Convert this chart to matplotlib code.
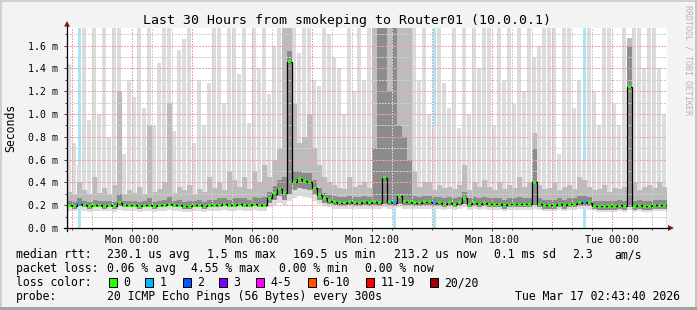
import numpy as np
import matplotlib
matplotlib.use('Agg')
import matplotlib.pyplot as plt
from matplotlib.patches import Rectangle, Polygon
from matplotlib.lines import Line2D

plt.rcParams['font.family'] = ['DejaVu Sans Mono']
plt.rcParams['lines.scale_dashes'] = False

W, H = 697, 310

# 15 minute bins, hours relative to Mon 00:00, first bin starts Sun 20:45
bin_start = -3.25
bin_hours = 0.25

# round trip times in ms (axis is "m" = milliseconds of seconds)
median_ms = [
    0.20, 0.19, 0.21, 0.20, 0.19, 0.20, 0.20, 0.19, 0.20, 0.19, 0.22, 0.20,
    0.20, 0.20, 0.19, 0.20, 0.20, 0.19, 0.20, 0.20, 0.21, 0.20, 0.20, 0.19,
    0.19, 0.20, 0.20, 0.19, 0.20, 0.20, 0.20, 0.21, 0.20, 0.20, 0.21, 0.20,
    0.20, 0.21, 0.20, 0.20, 0.26, 0.30, 0.34, 0.31, 1.46, 0.40, 0.43, 0.41,
    0.40, 0.35, 0.29, 0.26, 0.24, 0.23, 0.22, 0.22, 0.23, 0.22, 0.22, 0.23,
    0.22, 0.23, 0.22, 0.44, 0.23, 0.22, 0.28, 0.23, 0.23, 0.22, 0.22, 0.23,
    0.23, 0.22, 0.22, 0.21, 0.22, 0.21, 0.22, 0.26, 0.21, 0.22, 0.21, 0.22,
    0.21, 0.21, 0.21, 0.20, 0.21, 0.21, 0.21, 0.21, 0.21, 0.40, 0.21, 0.20,
    0.20, 0.20, 0.21, 0.20, 0.21, 0.21, 0.22, 0.23, 0.22, 0.19, 0.19, 0.19,
    0.19, 0.19, 0.20, 0.19, 1.24, 0.19, 0.20, 0.19, 0.19, 0.20, 0.20, 0.20,
]
rtt_min = [
    0.15, 0.15, 0.16, 0.15, 0.14, 0.15, 0.15, 0.15, 0.15, 0.14, 0.16, 0.15,
    0.15, 0.15, 0.14, 0.15, 0.15, 0.14, 0.15, 0.15, 0.16, 0.15, 0.15, 0.14,
    0.14, 0.15, 0.15, 0.14, 0.15, 0.15, 0.15, 0.16, 0.15, 0.15, 0.16, 0.15,
    0.15, 0.16, 0.15, 0.15, 0.18, 0.20, 0.22, 0.20, 0.24, 0.26, 0.28, 0.27,
    0.26, 0.24, 0.21, 0.19, 0.18, 0.17, 0.17, 0.17, 0.17, 0.17, 0.17, 0.17,
    0.17, 0.17, 0.17, 0.18, 0.17, 0.17, 0.18, 0.17, 0.17, 0.17, 0.17, 0.17,
    0.17, 0.17, 0.17, 0.16, 0.17, 0.16, 0.17, 0.18, 0.16, 0.17, 0.16, 0.17,
    0.16, 0.16, 0.16, 0.15, 0.16, 0.16, 0.16, 0.16, 0.16, 0.17, 0.16, 0.15,
    0.15, 0.15, 0.16, 0.15, 0.16, 0.16, 0.17, 0.17, 0.16, 0.15, 0.14, 0.14,
    0.14, 0.14, 0.15, 0.14, 0.16, 0.14, 0.15, 0.14, 0.14, 0.15, 0.15, 0.15,
]
rtt_p10 = [
    0.18, 0.17, 0.19, 0.18, 0.17, 0.18, 0.18, 0.17, 0.18, 0.17, 0.19, 0.18,
    0.18, 0.18, 0.17, 0.18, 0.18, 0.17, 0.18, 0.18, 0.19, 0.18, 0.18, 0.17,
    0.17, 0.18, 0.18, 0.17, 0.18, 0.18, 0.18, 0.19, 0.18, 0.18, 0.19, 0.18,
    0.18, 0.19, 0.18, 0.18, 0.22, 0.25, 0.28, 0.25, 0.30, 0.33, 0.35, 0.34,
    0.33, 0.30, 0.25, 0.22, 0.21, 0.20, 0.19, 0.19, 0.20, 0.19, 0.19, 0.20,
    0.19, 0.20, 0.19, 0.21, 0.20, 0.19, 0.21, 0.20, 0.20, 0.19, 0.19, 0.20,
    0.20, 0.19, 0.19, 0.18, 0.19, 0.18, 0.19, 0.21, 0.18, 0.19, 0.18, 0.19,
    0.18, 0.18, 0.18, 0.17, 0.18, 0.18, 0.18, 0.18, 0.18, 0.20, 0.18, 0.17,
    0.17, 0.17, 0.18, 0.17, 0.18, 0.18, 0.19, 0.19, 0.19, 0.17, 0.16, 0.16,
    0.16, 0.16, 0.17, 0.16, 0.18, 0.16, 0.17, 0.16, 0.16, 0.17, 0.17, 0.17,
]
rtt_p75 = [
    0.24, 0.23, 0.26, 0.24, 0.23, 0.25, 0.24, 0.24, 0.24, 0.23, 0.30, 0.24,
    0.24, 0.24, 0.23, 0.24, 0.26, 0.23, 0.24, 0.25, 0.27, 0.24, 0.25, 0.23,
    0.24, 0.24, 0.25, 0.23, 0.25, 0.25, 0.26, 0.26, 0.25, 0.26, 0.26, 0.26,
    0.25, 0.27, 0.26, 0.27, 0.32, 0.37, 0.42, 0.45, 1.55, 0.50, 0.50, 0.48,
    0.48, 0.42, 0.35, 0.31, 0.29, 0.28, 0.27, 0.27, 0.28, 0.27, 0.27, 0.28,
    0.27, 0.70, 1.80, 1.80, 1.20, 1.80, 0.90, 0.80, 0.60, 0.28, 0.27, 0.28,
    0.28, 0.27, 0.27, 0.26, 0.27, 0.26, 0.27, 0.32, 0.26, 0.27, 0.26, 0.27,
    0.26, 0.26, 0.26, 0.25, 0.26, 0.26, 0.27, 0.26, 0.26, 0.70, 0.26, 0.25,
    0.25, 0.25, 0.26, 0.25, 0.26, 0.26, 0.28, 0.28, 0.27, 0.24, 0.24, 0.24,
    0.24, 0.24, 0.25, 0.24, 1.60, 0.24, 0.25, 0.24, 0.24, 0.25, 0.25, 0.25,
]
rtt_p90 = [
    0.32, 0.30, 0.40, 0.33, 0.30, 0.45, 0.31, 0.35, 0.30, 0.38, 1.20, 0.30,
    0.33, 0.31, 0.36, 0.30, 0.90, 0.32, 0.34, 0.40, 1.10, 0.31, 0.36, 0.33,
    0.38, 0.30, 0.34, 0.32, 0.45, 0.35, 0.40, 0.33, 0.50, 0.42, 0.36, 0.45,
    0.34, 0.50, 0.40, 0.55, 0.45, 0.60, 0.70, 1.80, 1.80, 1.10, 0.75, 0.80,
    1.00, 0.70, 0.55, 0.45, 0.40, 0.38, 0.35, 0.34, 0.45, 0.36, 0.38, 0.40,
    0.35, 1.80, 1.80, 1.80, 1.80, 1.80, 1.80, 1.80, 1.80, 0.50, 0.36, 0.40,
    0.40, 0.33, 0.38, 0.35, 0.36, 0.34, 0.38, 0.55, 0.33, 0.40, 0.36, 0.42,
    0.36, 0.33, 0.40, 0.34, 0.38, 0.35, 0.45, 0.36, 0.40, 0.83, 0.38, 0.34,
    0.35, 0.40, 0.33, 0.36, 0.38, 0.34, 0.45, 0.42, 0.36, 0.33, 0.34, 0.38,
    0.32, 0.35, 0.34, 0.36, 1.67, 0.40, 0.33, 0.36, 0.38, 0.35, 0.40, 0.36,
]
rtt_max = [
    1.44, 0.75, 0.55, 1.80, 0.95, 1.80, 1.00, 1.80, 0.80, 1.80, 1.80, 0.65,
    1.30, 1.15, 1.80, 1.05, 1.80, 0.90, 1.45, 1.80, 1.80, 0.85, 1.56, 1.66,
    1.80, 0.75, 1.30, 0.90, 1.27, 1.80, 1.80, 1.10, 1.80, 1.80, 1.35, 1.80,
    0.92, 1.80, 1.40, 1.80, 1.18, 1.60, 1.80, 1.80, 1.80, 1.80, 1.54, 1.80,
    1.80, 1.30, 1.25, 1.80, 1.70, 1.50, 1.40, 1.00, 1.80, 1.20, 1.80, 1.30,
    1.80, 1.80, 1.80, 1.80, 1.80, 1.80, 1.80, 1.80, 1.80, 1.80, 1.30, 1.80,
    1.00, 0.90, 1.80, 1.27, 1.05, 1.80, 0.88, 1.80, 1.00, 1.80, 1.40, 1.80,
    1.80, 0.90, 1.80, 1.30, 1.80, 1.10, 1.80, 1.20, 1.80, 1.50, 1.60, 1.80,
    1.80, 1.80, 0.65, 1.80, 1.80, 1.05, 1.30, 0.60, 1.80, 1.20, 0.90, 1.80,
    1.80, 1.10, 0.90, 1.80, 1.67, 1.80, 1.80, 1.40, 1.80, 1.80, 1.40, 1.00,
]
# lost pings out of 20 per bin
loss_pings = [
    0, 0, 1, 0, 0, 0, 0, 0, 0, 0, 0, 0,
    0, 0, 0, 0, 0, 0, 0, 0, 0, 0, 0, 0,
    0, 0, 0, 0, 0, 0, 0, 0, 0, 0, 0, 0,
    0, 0, 0, 0, 0, 0, 0, 0, 0, 0, 0, 0,
    0, 0, 0, 0, 0, 0, 0, 0, 0, 0, 0, 0,
    0, 0, 0, 0, 0, 1, 0, 0, 0, 0, 0, 0,
    0, 1, 0, 0, 0, 0, 0, 0, 0, 0, 0, 0,
    0, 0, 0, 0, 0, 0, 0, 0, 0, 0, 0, 0,
    0, 0, 0, 0, 0, 0, 0, 1, 0, 0, 0, 0,
    0, 0, 0, 0, 0, 0, 0, 0, 0, 0, 0, 0,
]

loss_labels = ['0', '1', '2', '3', '4-5', '6-10', '11-19', '20/20']
loss_colors = ['#26ff00', '#00b8ff', '#0059ff', '#7e00ff', '#ff00ff',
               '#ff5500', '#ff0000', '#a10000']
loss_bg = {1: '#a8e4fa'}

x_tick_hours = [0, 6, 12, 18, 24]
x_tick_labels = ['Mon 00:00', 'Mon 06:00', 'Mon 12:00', 'Mon 18:00', 'Tue 00:00']
y_ticks = [0.0, 0.2, 0.4, 0.6, 0.8, 1.0, 1.2, 1.4, 1.6]


def fig_xy(x, y):
    # pixel position (from top left) -> figure fraction
    return x / W, 1 - y / H


edges = bin_start + bin_hours * np.arange(len(median_ms) + 1)
centers = edges[:-1] + bin_hours / 2
p90 = np.array(rtt_p90)
peak = np.array(rtt_max)

fig = plt.figure(figsize=(W / 100, H / 100), dpi=100)
fig.patch.set_facecolor('#f3f3f3')

left, bottom = fig_xy(67, 228)
right, top = fig_xy(667, 28)
ax = fig.add_axes([left, bottom, right - left, top - bottom])
ax.set_facecolor('white')
ax.set_xlim(-3.25, 26.75)
ax.set_ylim(0, 1.755)

# loss markers behind the smoke
for c, lost in zip(centers, loss_pings):
    if lost:
        ax.axvspan(c - 0.06, c + 0.06, color=loss_bg[lost], lw=0, zorder=0.5)

# smoke: solid body, thin spikes for the outliers
ax.stairs(rtt_p90, edges, baseline=rtt_min, fill=True, color='#dcdcdc', lw=0, zorder=1)
ax.bar(centers - 0.03, peak - p90, bottom=p90, width=0.17, color='#dcdcdc', lw=0, zorder=1)
ax.stairs(rtt_p90, edges, baseline=rtt_p10, fill=True, color='#bcbcbc', lw=0, zorder=1.1)
ax.stairs(rtt_p75, edges, baseline=rtt_p10, fill=True, color='#8c8c8c', lw=0, zorder=1.2)

# dotted grid on top of the smoke
dots = (0, (1, 1))
for h in range(-3, 27):
    ax.axvline(h, color='#f0a4a4' if h % 3 == 0 else '#cfcfcf', lw=0.72, ls=dots,
               antialiased=False, zorder=2)
for k in range(1, 18):
    ax.axhline(k / 10, color='#f0a4a4' if k % 2 == 0 else '#cfcfcf', lw=0.72, ls=dots,
               antialiased=False, zorder=2)

# median
ax.stairs(median_ms, edges, color='black', lw=0.9, zorder=3)
ax.scatter(centers, median_ms, c=[loss_colors[l] for l in loss_pings],
           marker='s', s=5, linewidths=0, zorder=4)

ax.set_xticks(x_tick_hours)
ax.set_xticklabels(x_tick_labels)
ax.set_xticks(range(-3, 27), minor=True)
ax.set_yticks(y_ticks)
ax.set_yticklabels(['%.1f m' % v for v in y_ticks])
ax.set_yticks([k / 10 for k in range(1, 18, 2)], minor=True)
ax.tick_params(which='both', direction='out', color='#404040', width=0.72, labelsize=7.1)
ax.tick_params(which='major', length=2.2)
ax.tick_params(which='minor', length=1.4)
ax.tick_params(axis='x', pad=2.5)
ax.tick_params(axis='y', pad=4.5)
for s in ax.spines.values():
    s.set_visible(False)

# axis lines with arrows
fig.add_artist(Line2D(*zip(fig_xy(64, 228), fig_xy(669, 228)), color='black', lw=0.9))
fig.add_artist(Line2D(*zip(fig_xy(67, 231), fig_xy(67, 26)), color='black', lw=0.9))
fig.add_artist(Polygon([fig_xy(668, 225), fig_xy(674, 228), fig_xy(668, 231)],
                       closed=True, color='#8b1a1a', lw=0))
fig.add_artist(Polygon([fig_xy(64, 26.5), fig_xy(67, 21), fig_xy(70, 26.5)],
                       closed=True, color='#8b1a1a', lw=0))

# frame
fig.add_artist(Rectangle(fig_xy(0, 2), 1, 2 / H, color='#d0d0d0', lw=0))
fig.add_artist(Rectangle(fig_xy(0, H), 2 / W, 1, color='#d0d0d0', lw=0))
fig.add_artist(Rectangle(fig_xy(W - 2, H), 2 / W, 1, color='#c4c4c4', lw=0))
fig.add_artist(Rectangle(fig_xy(0, H), 1, 3 / H, color='#a3a3a3', lw=0))

fig.text(*fig_xy(347, 24), 'Last 30 Hours from smokeping to Router01 (10.0.0.1)',
         ha='center', va='baseline', fontsize=9.5)
fig.text(*fig_xy(11, 128), 'Seconds', rotation=90, ha='center', va='center', fontsize=8.3)
fig.text(*fig_xy(688, 5), 'RRDTOOL / TOBI OETIKER', rotation=270, ha='center', va='top',
         fontsize=6, color='#b4b4b4')

legend_rows = [
    (258, [(16, 'median rtt:'), (107, '230.1 us avg'), (207, '1.5 ms max'),
           (293, '169.5 us min'), (394, '213.2 us now'), (494, '0.1 ms sd'),
           (572, '2.3'), (614, 'am/s')]),
    (272, [(16, 'packet loss:'), (107, '0.06 % avg'), (191, '4.55 % max'),
           (279, '0.00 % min'), (365, '0.00 % now')]),
    (286, [(16, 'loss color:')]),
    (300, [(16, 'probe:'), (107, '20 ICMP Echo Pings (56 Bytes) every 300s')]),
]
for y, items in legend_rows:
    for x, s in items:
        fig.text(*fig_xy(x, y), s, ha='left', va='baseline', fontsize=8.3)

box_x = [108.5, 145, 182.5, 219, 256, 307.5, 366, 430]
for bx, lab, col in zip(box_x, loss_labels, loss_colors):
    fig.add_artist(Rectangle(fig_xy(bx, 286.5), 8 / W, 9 / H, facecolor=col,
                             edgecolor='black', lw=0.72))
    fig.text(*fig_xy(bx + 14.5, 286), lab, ha='left', va='baseline', fontsize=8.3)

fig.text(*fig_xy(680, 300), 'Tue Mar 17 02:43:40 2026', ha='right', va='baseline', fontsize=8.3)

fig.savefig('out.png', dpi=100, facecolor=fig.get_facecolor())
